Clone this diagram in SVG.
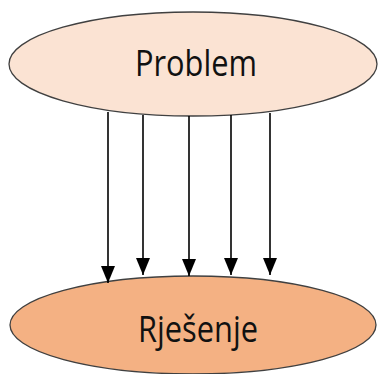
<svg xmlns="http://www.w3.org/2000/svg" width="378" height="374" viewBox="0 0 378 374">
<style>
.node ellipse{stroke:#404040;stroke-width:1.3}
.lbl{font-family:"Open Sans","Noto Sans",sans-serif;font-size:37px;fill:#111;text-anchor:middle}
.conn line{stroke:#000;stroke-width:1.6}
</style>
<defs>
<marker id="ah" viewBox="0 0 17 14" refX="17" refY="7" markerWidth="17" markerHeight="14" markerUnits="userSpaceOnUse" orient="auto">
<path d="M0,0 L17,7 L0,14 Z" fill="#000"/>
</marker>
</defs>
<rect width="378" height="374" fill="#fff"/>
<g id="problem" class="node">
<ellipse cx="193" cy="64" rx="184" ry="52" fill="#FBE3D3"/>
<text class="lbl" x="196" y="76" textLength="122" lengthAdjust="spacingAndGlyphs">Problem</text>
</g>
<g id="rjesenje" class="node">
<ellipse cx="193" cy="325" rx="183" ry="49" fill="#F4B183"/>
<text class="lbl" x="198" y="342" textLength="120" lengthAdjust="spacingAndGlyphs">Rješenje</text>
</g>
<g id="connectors" class="conn">
<line x1="108" y1="112" x2="108" y2="283" marker-end="url(#ah)"/>
<line x1="143" y1="115" x2="143" y2="275" marker-end="url(#ah)"/>
<line x1="189" y1="116" x2="189" y2="276" marker-end="url(#ah)"/>
<line x1="231" y1="115" x2="231" y2="275" marker-end="url(#ah)"/>
<line x1="270" y1="113" x2="270" y2="275" marker-end="url(#ah)"/>
</g>
</svg>
